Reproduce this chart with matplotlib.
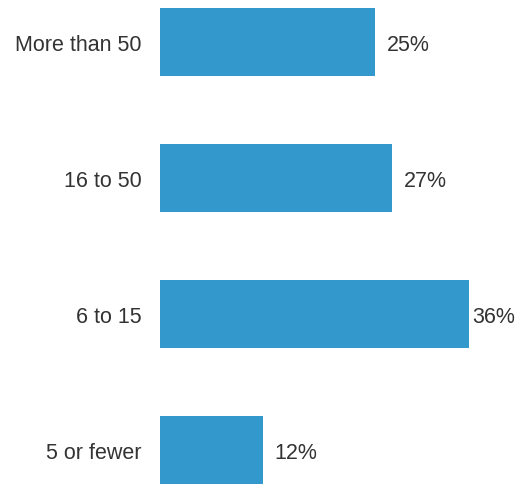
import matplotlib
matplotlib.use('Agg')
import matplotlib.pyplot as plt

categories = ['5 or fewer', '6 to 15', '16 to 50', 'More than 50']
shares = [12, 36, 27, 25]

plt.rcParams['font.family'] = ['Liberation Sans', 'DejaVu Sans']

fig = plt.figure(figsize=(5.26, 4.85), dpi=100)
ax = fig.add_axes([160 / 526, 0, 309 / 526, 1 - 9 / 485])

pos = list(range(len(categories)))
bars = ax.barh(pos, shares, height=0.5, color='#3399cc')

# value labels to the right of each bar; the longest one is pulled in so it fits
for b, v in zip(bars, shares):
    pad = 2 if v == max(shares) else 8.5
    ax.annotate(f'{v}%', (b.get_width(), b.get_y() + b.get_height() / 2),
                xytext=(pad, -1.5), textcoords='offset points',
                va='center', ha='left', fontsize=15.5, color='#333333',
                annotation_clip=False)

ax.set_xlim(0, max(shares))
ax.set_ylim(-0.25, len(categories) - 0.75)
ax.set_yticks(pos)
ax.set_yticklabels(categories, fontsize=15.5, color='#333333')
for t in ax.get_yticklabels():
    t.set_y(t.get_position()[1])
ax.tick_params(axis='y', length=0, pad=13.5)
ax.set_xticks([])
for s in ax.spines.values():
    s.set_visible(False)

fig.savefig('out.png', dpi=100)
